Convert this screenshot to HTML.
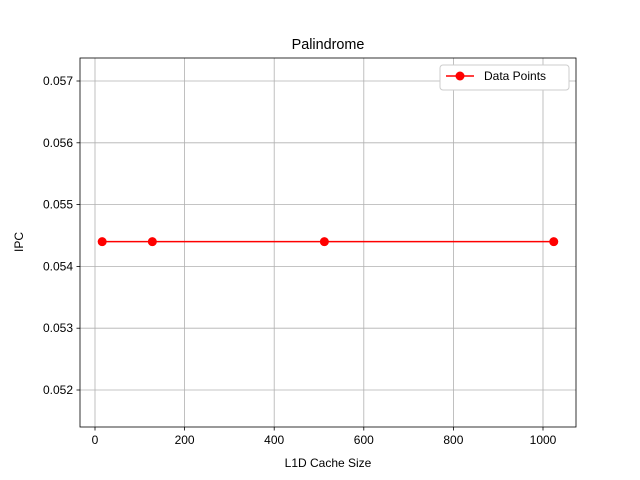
<!DOCTYPE html>
<html><head><meta charset="utf-8"><style>body{margin:0;background:#fff}svg{display:block;font-family:"Liberation Sans","DejaVu Sans",sans-serif}</style></head>
<body>
<svg id="chart" width="640" height="480"></svg>
<script>
const categories=[16,128,512,1024];
const ipcValues=[0.0544,0.0544,0.0544,0.0544];
const xTicks=[0,200,400,600,800,1000];
const yTicks=[0.052,0.053,0.054,0.055,0.056,0.057];
const yTickLabels=["0.052","0.053","0.054","0.055","0.056","0.057"];
const L=80,R=576,T=58,B=427;
const xs=v=>95+(v-0)*(543-95)/1000;
const ys=v=>390-(v-0.052)*(390-81)/0.005;
const svg=document.getElementById('chart');
const NS='http://www.w3.org/2000/svg';
function mk(tag,attrs,name,parent){const e=document.createElementNS(NS,tag);for(const k in attrs)e.setAttribute(k,attrs[k]);


(parent||svg).appendChild(e);return e;}
function txt(x,y,s,name,extra){const t=mk('text',Object.assign({x:x,y:y,'font-size':12,fill:'#000'},extra||{}),name);t.textContent=s;return t;}
xTicks.forEach(v=>{const x=xs(v);mk('line',{x1:x,x2:x,y1:T,y2:B,stroke:'#b0b0b0','stroke-width':0.8},'x-grid-line');
mk('line',{x1:x,x2:x,y1:B,y2:B+3.5,stroke:'#000','stroke-width':0.8},'x-tick');
txt(x,B+17,String(v),'x-tick-label',{'text-anchor':'middle'});});
yTicks.forEach((v,i)=>{const y=ys(v);mk('line',{x1:L,x2:R,y1:y,y2:y,stroke:'#b0b0b0','stroke-width':0.8},'y-grid-line');
mk('line',{x1:L-3.5,x2:L,y1:y,y2:y,stroke:'#000','stroke-width':0.8},'y-tick');
txt(L-7,y+4,yTickLabels[i],'y-tick-label',{'text-anchor':'end'});});
mk('rect',{x:L,y:T,width:R-L,height:B-T,fill:'none',stroke:'#000','stroke-width':0.8},'plot-frame');
mk('polyline',{points:categories.map((c,i)=>xs(c)+','+ys(ipcValues[i])).join(' '),fill:'none',stroke:'#ff0000','stroke-width':1.5},'data-line');
categories.forEach((c,i)=>mk('circle',{cx:xs(c),cy:ys(ipcValues[i]),r:4.5,fill:'#ff0000'},'data-point'));
txt(328,49,'Palindrome','chart-title',{'text-anchor':'middle','font-size':14.4});
txt(328,467,'L1D Cache Size','x-axis-title',{'text-anchor':'middle'});
txt(23,242,'IPC','y-axis-title',{'text-anchor':'middle',transform:'rotate(-90 23 242)'});
const lg=mk('g',{},'legend');
mk('rect',{x:440,y:65,width:129,height:25,rx:3,fill:'#fff',stroke:'#ccc'},'legend-box',lg);
mk('line',{x1:446,x2:474,y1:76,y2:76,stroke:'#ff0000','stroke-width':1.5},'legend-line',lg);
mk('circle',{cx:460,cy:76,r:4.5,fill:'#ff0000'},'legend-marker',lg);
txt(484,80,'Data Points','legend-label');
</script>
</body></html>
